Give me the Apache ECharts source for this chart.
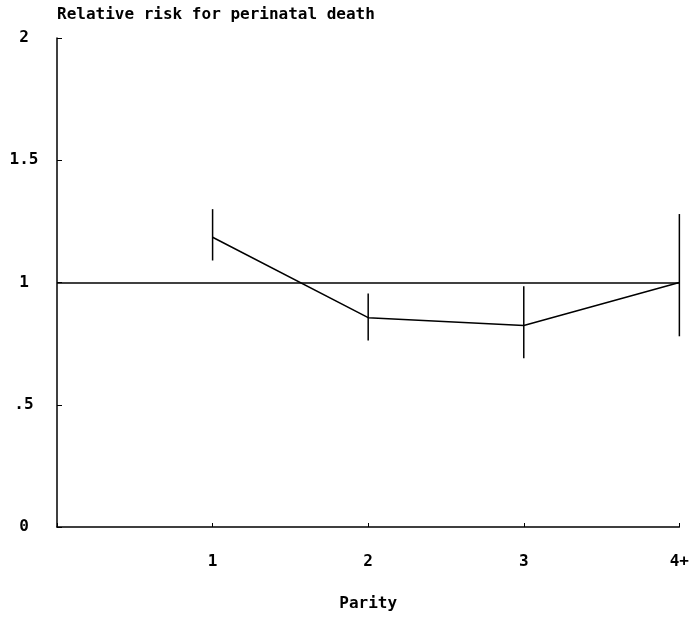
<!DOCTYPE html>
<html>
<head>
<meta charset="utf-8">
<script src="https://cdn.jsdelivr.net/npm/echarts@6/dist/echarts.min.js"></script>
<style>
  html, body { margin: 0; padding: 0; background: #fff; }
  #chart { width: 692px; height: 617px; }
</style>
</head>
<body>
<div id="chart"></div>
<script>
// parity groups, placed on a 0..4 value axis
var parity = [1, 2, 3, 4];
var parityLabels = { 1: '1', 2: '2', 3: '3', 4: '4+' };
var risk = [1.185, 0.856, 0.824, 1.0];
var lower = [1.09, 0.763, 0.69, 0.78];
var upper = [1.30, 0.955, 0.985, 1.28];
var yTicks = { 0: '0', 0.5: '.5', 1: '1', 1.5: '1.5', 2: '2' };

var font = 'DejaVu Sans Mono';

var lineData = parity.map(function (p, i) { return [p, risk[i]]; });
var barData = parity.map(function (p, i) { return [p, lower[i], upper[i]]; });

var chart = echarts.init(document.getElementById('chart'));
chart.setOption({
    backgroundColor: '#fff',
    animation: false,
    title: {
        text: 'Relative risk for perinatal death',
        left: 52,
        top: 2,
        textStyle: { fontFamily: font, fontWeight: 'bold', fontSize: 16, color: '#000' }
    },
    grid: { left: 57, right: 12, top: 38, height: 490 },
    xAxis: {
        type: 'value',
        min: 0,
        max: 4,
        interval: 1,
        name: 'Parity',
        nameLocation: 'middle',
        nameGap: 69,
        nameTextStyle: { fontFamily: font, fontWeight: 'bold', fontSize: 16, color: '#000' },
        axisLine: { lineStyle: { color: '#000', width: 1.5 } },
        axisTick: { inside: true, length: 4, lineStyle: { color: '#000' } },
        splitLine: { show: false },
        axisLabel: {
            margin: 27,
            fontFamily: font, fontWeight: 'bold', fontSize: 16, color: '#000',
            formatter: function (v) { return parityLabels[v] || ''; }
        }
    },
    yAxis: {
        type: 'value',
        min: 0,
        max: 2,
        interval: 0.5,
        axisLine: { show: true, lineStyle: { color: '#000', width: 1.5 } },
        axisTick: { show: true, inside: true, length: 5, lineStyle: { color: '#000' } },
        splitLine: { show: false },
        axisLabel: {
            align: 'center',
            margin: 33,
            fontFamily: font, fontWeight: 'bold', fontSize: 16, color: '#000',
            formatter: function (v) { return yTicks[v] !== undefined ? yTicks[v] : ''; }
        }
    },
    series: [{
        type: 'line',
        data: lineData,
        symbol: 'none',
        lineStyle: { color: '#000', width: 1.5 },
        markLine: {
            silent: true,
            symbol: 'none',
            label: { show: false },
            lineStyle: { color: '#000', width: 1.5, type: 'solid' },
            data: [{ yAxis: 1 }]
        }
    }, {
        type: 'custom',
        data: barData,
        renderItem: function (params, api) {
            var top = api.coord([api.value(0), api.value(2)]);
            var bot = api.coord([api.value(0), api.value(1)]);
            return {
                type: 'line',
                shape: { x1: top[0], y1: top[1], x2: bot[0], y2: bot[1] },
                style: { stroke: '#000', lineWidth: 1.5 }
            };
        }
    }]
});
</script>
</body>
</html>
